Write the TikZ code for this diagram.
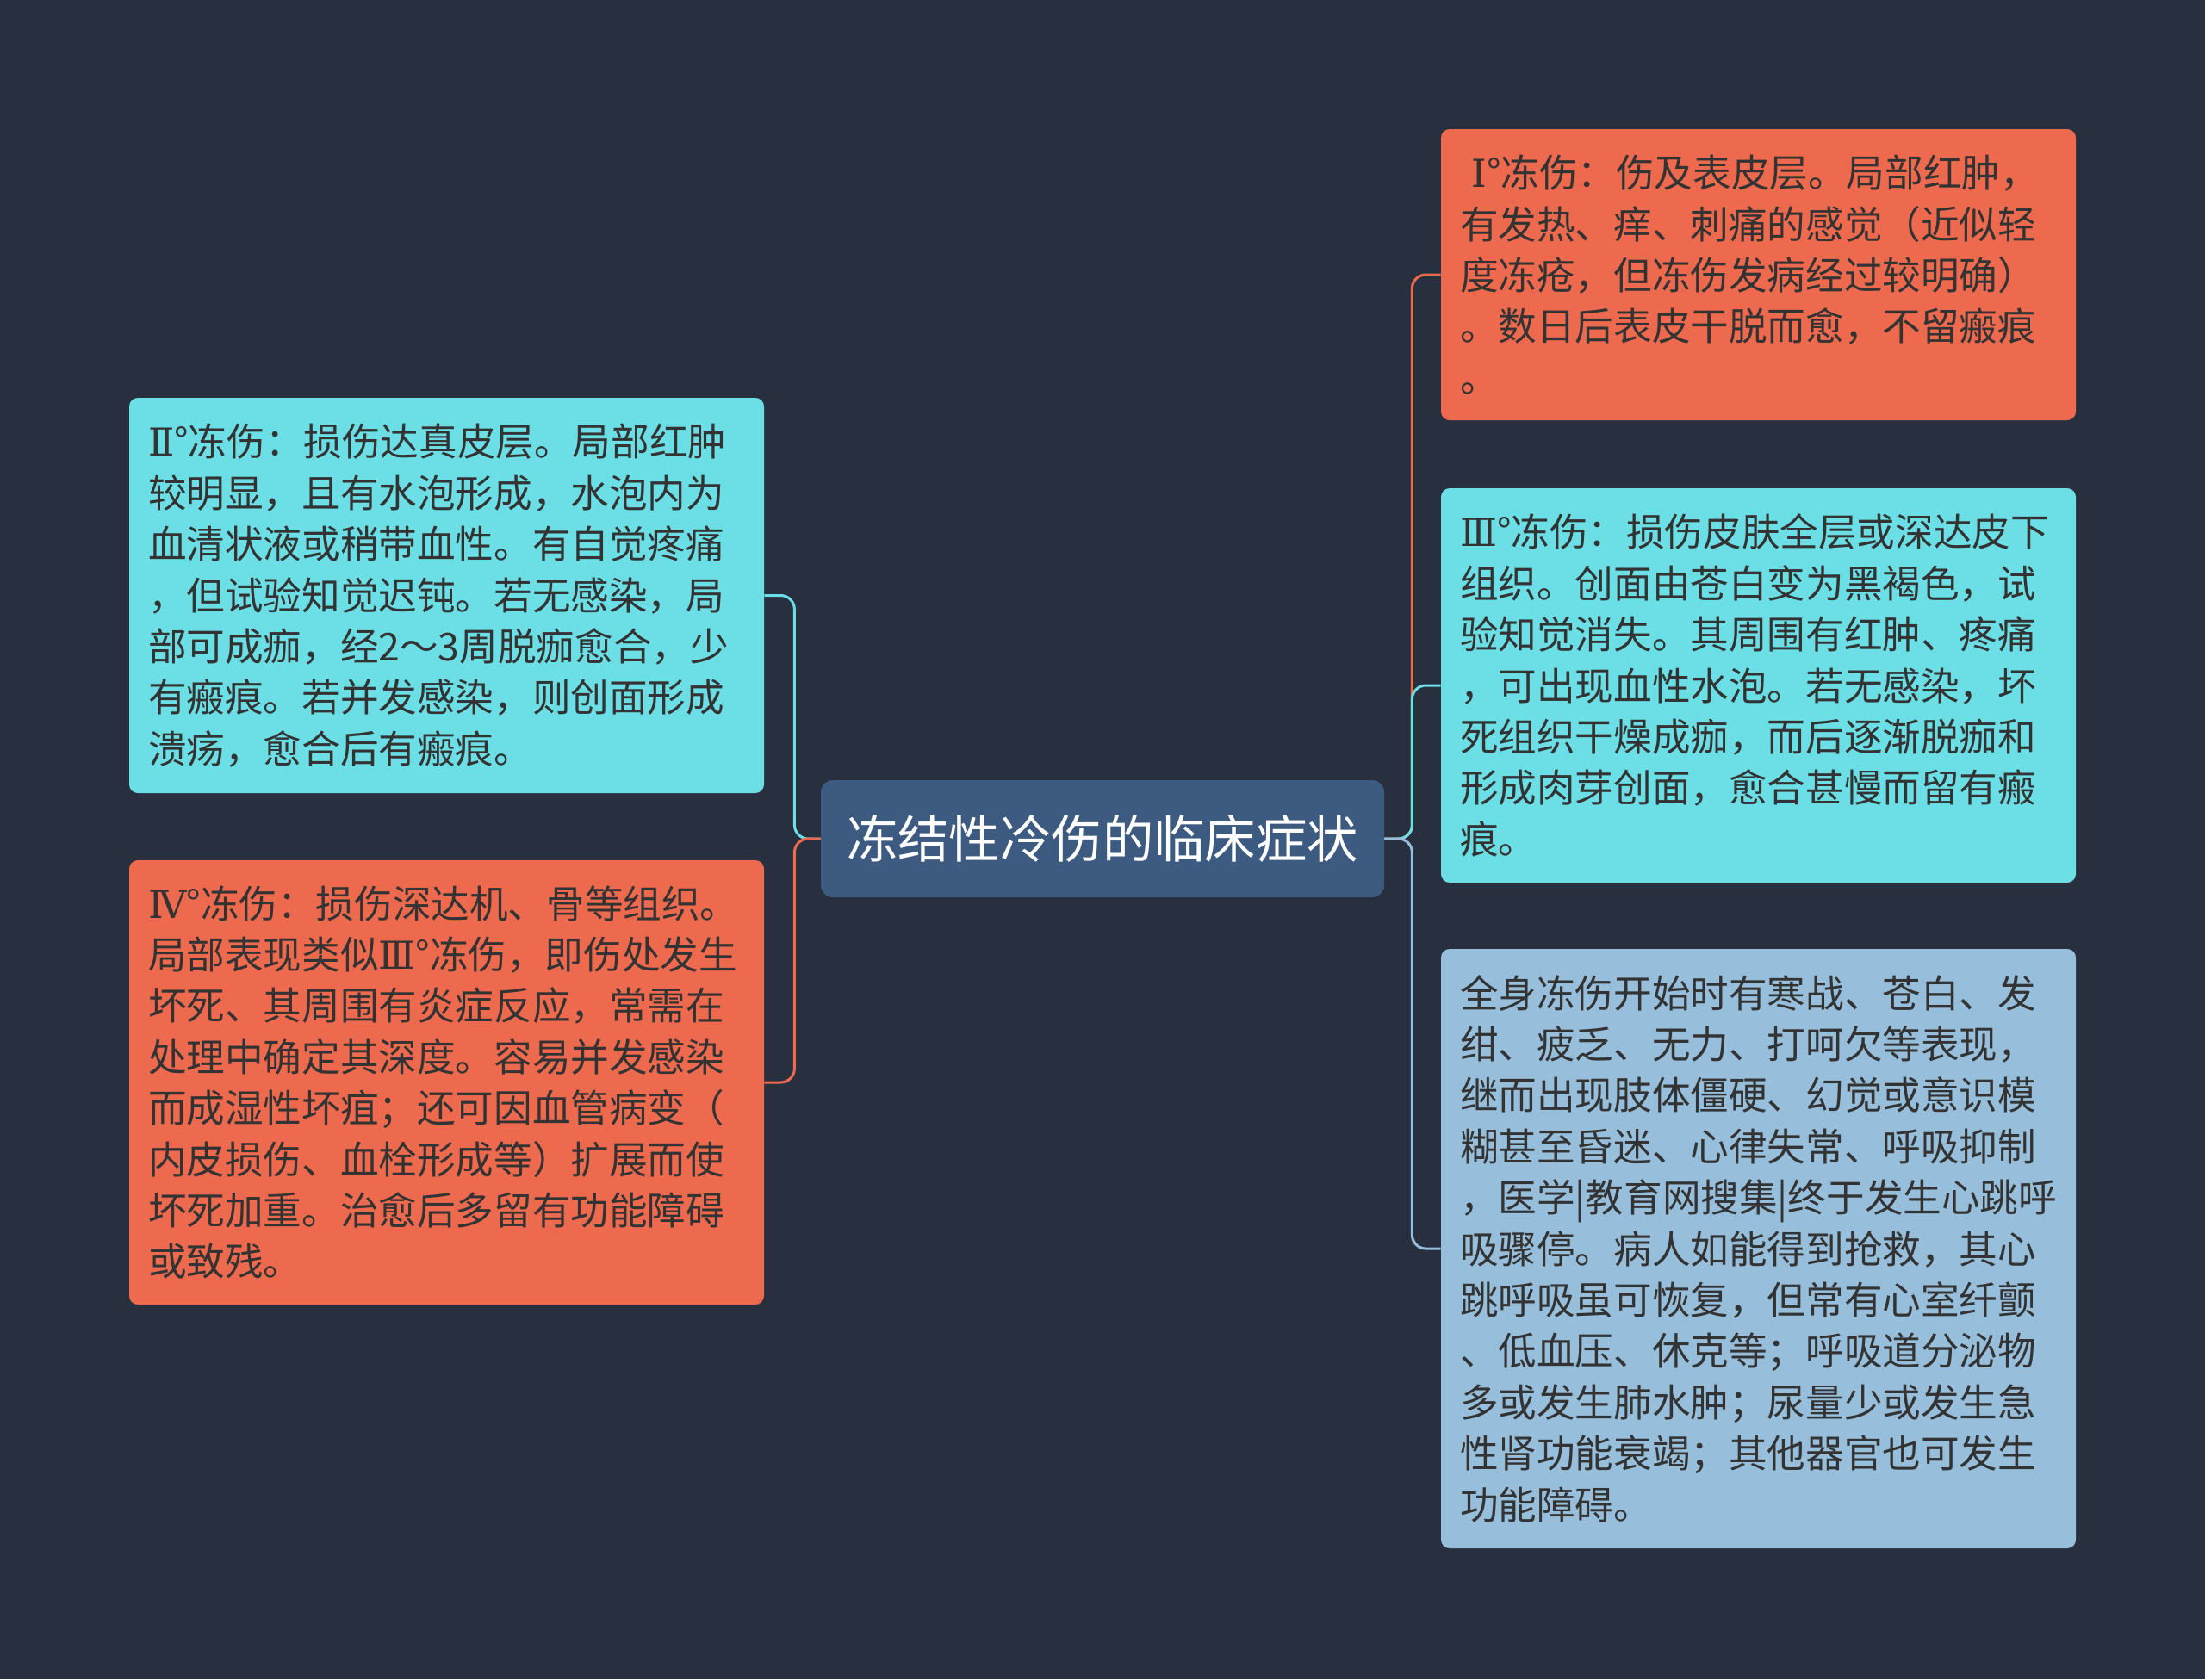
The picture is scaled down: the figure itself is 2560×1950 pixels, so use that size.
\documentclass[tikz,border=0pt]{standalone}
\usepackage{fontspec}
\newfontfamily\cjk{Noto Sans CJK SC}
\newfontfamily\romanfont{DejaVu Serif}
\newcommand{\rn}[1]{{\romanfont #1}}
\definecolor{bg}{HTML}{283040}
\definecolor{orangeC}{HTML}{EE6A4E}
\definecolor{cyanC}{HTML}{6BDFE5}
\definecolor{blueC}{HTML}{97BFDC}
\definecolor{centerC}{HTML}{3D5A80}
\definecolor{txt}{HTML}{333333}
\tikzset{
  box/.style={rounded corners=5pt, inner xsep=11pt, inner ysep=0pt,
    minimum width=368.5pt, text width=346.5pt, align=left, text=txt,
    font=\cjk\fontsize{22.3pt}{29.7pt}\selectfont},
  root/.style={rounded corners=7pt, fill=centerC, minimum width=327pt,
    minimum height=68pt, text=white, font=\cjk\fontsize{29.7pt}{36pt}\selectfont},
  link/.style={line width=1.5pt, rounded corners=8pt}
}
\begin{document}
\begin{tikzpicture}[x=0.5pt,y=-0.5pt]
\fill[bg] (0,0) rectangle (2560,1950);
\useasboundingbox (0,0) rectangle (2560,1950);

\node[root] (c) at (1280,974) {冻结性冷伤的临床症状};

\node[box, fill=orangeC, minimum height=169pt] (n1) at (2041.5,319) {\hspace{0.3em}\rn{Ⅰ}°冻伤：伤及表皮层。局部红肿，\\有发热、痒、刺痛的感觉（近似轻\\度冻疮，但冻伤发病经过较明确）\\。数日后表皮干脱而愈，不留瘢痕\\。};

\node[box, fill=cyanC, minimum height=229pt] (n3) at (2041.5,796) {\rn{Ⅲ}°冻伤：损伤皮肤全层或深达皮下\\组织。创面由苍白变为黑褐色，试\\验知觉消失。其周围有红肿、疼痛\\，可出现血性水泡。若无感染，坏\\死组织干燥成痂，而后逐渐脱痂和\\形成肉芽创面，愈合甚慢而留有瘢\\痕。};

\node[box, fill=blueC, minimum height=348pt] (n5) at (2041.5,1450) {全身冻伤开始时有寒战、苍白、发\\绀、疲乏、无力、打呵欠等表现，\\继而出现肢体僵硬、幻觉或意识模\\糊甚至昏迷、心律失常、呼吸抑制\\，医学|教育网搜集|终于发生心跳呼\\吸骤停。病人如能得到抢救，其心\\跳呼吸虽可恢复，但常有心室纤颤\\、低血压、休克等；呼吸道分泌物\\多或发生肺水肿；尿量少或发生急\\性肾功能衰竭；其他器官也可发生\\功能障碍。};

\node[box, fill=cyanC, minimum height=229.5pt] (n2) at (518.5,691.5) {\rn{Ⅱ}°冻伤：损伤达真皮层。局部红肿\\较明显，且有水泡形成，水泡内为\\血清状液或稍带血性。有自觉疼痛\\，但试验知觉迟钝。若无感染，局\\部可成痂，经2～3周脱痂愈合，少\\有瘢痕。若并发感染，则创面形成\\溃疡，愈合后有瘢痕。};

\node[box, fill=orangeC, minimum height=258pt] (n4) at (518.5,1257) {\rn{Ⅳ}°冻伤：损伤深达机、骨等组织。\\局部表现类似\rn{Ⅲ}°冻伤，即伤处发生\\坏死、其周围有炎症反应，常需在\\处理中确定其深度。容易并发感染\\而成湿性坏疽；还可因血管病变（\\内皮损伤、血栓形成等）扩展而使\\坏死加重。治愈后多留有功能障碍\\或致残。};

% left connectors
\draw[link, cyanC] (n2.east) -- ++(17.5pt,0) |- (c.west);
\draw[link, orangeC] (n4.east) -- ++(17.5pt,0) |- (c.west);
% right connectors
\draw[link, orangeC] (c.east) -- ++(16pt,0) |- (n1.west);
\draw[link, cyanC] (c.east) -- ++(16pt,0) |- (n3.west);
\draw[link, blueC] (c.east) -- ++(16pt,0) |- (n5.west);
\end{tikzpicture}
\end{document}
